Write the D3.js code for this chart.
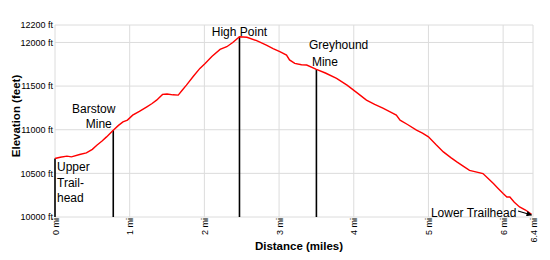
<!DOCTYPE html>
<html>
<head>
<meta charset="utf-8">
<script src="https://cdn.jsdelivr.net/npm/d3@7"></script>
<style>
  body { margin: 0; background: #fff; }
  text { font-family: "Liberation Sans", Arial, sans-serif; }
</style>
</head>
<body>
<div id="chart"></div>
<script>
// profile data: distance (mi) and elevation (ft)
var distMi = [0, 0.07, 0.16, 0.22, 0.33, 0.42, 0.5, 0.56, 0.63, 0.69, 0.78, 0.85, 0.91, 0.97, 1.04, 1.13, 1.23, 1.3, 1.36, 1.44, 1.5, 1.58, 1.65, 1.7, 1.76, 1.85, 1.94, 2.01, 2.1, 2.21, 2.3, 2.38, 2.47, 2.57, 2.7, 2.83, 2.92, 3.01, 3.1, 3.14, 3.21, 3.3, 3.37, 3.5, 3.62, 3.77, 3.91, 4.05, 4.17, 4.28, 4.39, 4.5, 4.57, 4.62, 4.72, 4.84, 4.92, 5.0, 5.1, 5.2, 5.3, 5.38, 5.47, 5.55, 5.62, 5.73, 5.8, 5.87, 5.93, 6.0, 6.05, 6.09, 6.15, 6.22, 6.3, 6.38];
var elevFt = [10670, 10685, 10697, 10689, 10716, 10734, 10775, 10823, 10870, 10918, 10995, 11050, 11090, 11110, 11167, 11210, 11262, 11300, 11339, 11405, 11410, 11400, 11397, 11450, 11511, 11610, 11703, 11760, 11840, 11921, 11951, 12000, 12066, 12059, 12020, 11970, 11930, 11894, 11856, 11800, 11760, 11745, 11741, 11692, 11650, 11588, 11511, 11420, 11339, 11290, 11247, 11200, 11167, 11110, 11060, 10995, 10960, 10918, 10830, 10746, 10680, 10631, 10580, 10535, 10520, 10498, 10440, 10383, 10330, 10270, 10230, 10230, 10170, 10115, 10080, 10031];

// waypoint markers
var markerMi = [0, 0.78, 2.47, 3.5];
var markerFt = [10670, 10995, 12066, 11692];

// ticks
var xTicks = [0, 1, 2, 3, 4, 5, 6, 6.4];
var yTicks = [10000, 10500, 11000, 11500, 12000, 12200];

var svgWidth = 550, svgHeight = 260;
var margin = {top: 25, right: 17, bottom: 43, left: 55};
var width = svgWidth - margin.left - margin.right;
var height = svgHeight - margin.top - margin.bottom;

var svg = d3.select("#chart").append("svg")
  .attr("width", svgWidth)
  .attr("height", svgHeight);

var g = svg.append("g")
  .attr("transform", `translate(${margin.left}, ${margin.top})`);

var x = d3.scaleLinear().domain([0, 6.4]).range([0, width]);
var y = d3.scaleLinear().domain([10000, 12200]).range([height, 0]);

// grid
g.selectAll(".hgrid").data(yTicks).enter().append("line")
  .attr("x1", 0).attr("x2", width)
  .attr("y1", d => y(d)).attr("y2", d => y(d))
  .attr("stroke", "#dcdcdc").attr("stroke-width", 1);

g.selectAll(".vgrid").data(xTicks).enter().append("line")
  .attr("x1", d => x(d)).attr("x2", d => x(d))
  .attr("y1", 0).attr("y2", height)
  .attr("stroke", "#dcdcdc").attr("stroke-width", 1);

// y axis labels
var leftAxis = d3.axisLeft(y).tickValues(yTicks).tickSize(0).tickPadding(2)
  .tickFormat(d => d + " ft");
g.append("g").call(leftAxis)
  .call(a => a.select(".domain").remove())
  .selectAll("text")
  .style("font-size", "9px").attr("fill", "#000");

// x axis labels (rotated)
var bottomAxis = d3.axisBottom(x).tickValues(xTicks).tickSize(0)
  .tickFormat(d => d + " mi");
g.append("g").attr("transform", `translate(0, ${height})`).call(bottomAxis)
  .call(a => a.select(".domain").remove())
  .selectAll("text")
  .style("font-size", "9px").attr("fill", "#000")
  .attr("text-anchor", "end")
  .attr("transform", "rotate(-90)")
  .attr("x", -1).attr("y", 0).attr("dy", "0.35em");

// marker lines
g.selectAll(".marker").data(markerMi).enter().append("line")
  .attr("x1", d => x(d)).attr("x2", d => x(d))
  .attr("y1", (d, i) => y(markerFt[i])).attr("y2", height)
  .attr("stroke", "#000").attr("stroke-width", 1.6);

// profile
var pts = distMi.map((d, i) => [d, elevFt[i]]);
g.append("path").datum(pts)
  .attr("fill", "none").attr("stroke", "#f00").attr("stroke-width", 1.4)
  .attr("d", d3.line().x(d => x(d[0])).y(d => y(d[1])));

// marker labels (positions relative to the plot group)
function label(s, px, py, anchor) {
  g.append("text").attr("text-anchor", anchor)
    .attr("x", px).attr("y", py)
    .style("font-size", "12px").attr("fill", "#000")
    .text(s);
}
var mx = markerMi.map(x);
label("Upper", mx[0] + 2, 146, "start");
label("Trail-", mx[0] + 2, 161.5, "start");
label("head", mx[0] + 2, 176.5, "start");
label("Barstow", mx[1] - 19.5, 88, "middle");
label("Mine", mx[1] - 14.5, 103, "middle");
label("High Point", mx[2], 10.5, "middle");
label("Greyhound", mx[3] - 7.5, 24, "start");
label("Mine", mx[3] - 4.5, 40.5, "start");
label("Lower Trailhead", x(6.17) + 0.5, height - 0.5, "end");

// little arrow to the lower trailhead
svg.append("defs").append("marker")
  .attr("id", "arr").attr("viewBox", "0 0 10 10").attr("refX", 9).attr("refY", 5)
  .attr("markerWidth", 5).attr("markerHeight", 5).attr("orient", "auto")
  .append("path").attr("d", "M0,0L10,5L0,10z").attr("fill", "#000");
g.append("line")
  .attr("x1", x(6.2)).attr("y1", height - 6)
  .attr("x2", x(6.38)).attr("y2", height - 2)
  .attr("stroke", "#000").attr("stroke-width", 1.1)
  .attr("marker-end", "url(#arr)");

// axis titles
svg.append("text")
  .attr("transform", "rotate(-90)")
  .attr("x", -116).attr("y", 20)
  .attr("text-anchor", "middle")
  .style("font-size", "11.5px").style("font-weight", "bold")
  .text("Elevation (feet)");

svg.append("text")
  .attr("x", 299).attr("y", 250)
  .attr("text-anchor", "middle")
  .style("font-size", "11.5px").style("font-weight", "bold")
  .text("Distance (miles)");
</script>
</body>
</html>
